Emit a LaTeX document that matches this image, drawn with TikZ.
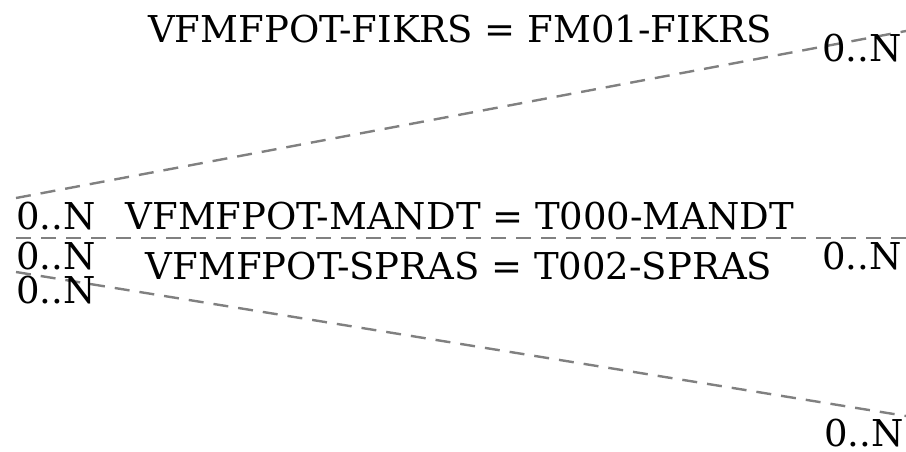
\documentclass[tikz,border=0pt]{standalone}
\usepackage{fontspec}
\setmainfont{DejaVu Serif}
\begin{document}
\begin{tikzpicture}[x=1pt,y=-1pt,
  rel/.style={draw=gray,line width=2.4pt,dash pattern=on 15pt off 10pt},
  lbl/.style={font=\fontsize{37}{42}\selectfont,inner sep=0pt},
  card/.style={font=\fontsize{37}{42}\selectfont,inner sep=0pt}]
\useasboundingbox (0,0) rectangle (906,451);
\coordinate (a1) at (16,198);
\coordinate (b1) at (906,31);
\coordinate (a2) at (16,238);
\coordinate (b2) at (906,238);
\coordinate (a3) at (16,272);
\coordinate (b3) at (906,416);
\draw[rel] (a1) -- (b1);
\draw[rel] (a2) -- (b2);
\draw[rel] (a3) -- (b3);
\node[lbl,anchor=base] (l1) at (460,42) {VFMFPOT-FIKRS = FM01-FIKRS};
\node[lbl,anchor=base] (l2) at (460,229) {VFMFPOT-MANDT = T000-MANDT};
\node[lbl,anchor=base] (l3) at (459,279) {VFMFPOT-SPRAS = T002-SPRAS};
\node[card,anchor=base west] (c1) at (16,229) {0..N};
\node[card,anchor=base west] (c2) at (16,269) {0..N};
\node[card,anchor=base west] (c3) at (16,303) {0..N};
\node[card,anchor=base east] (d1) at (902,61) {0..N};
\node[card,anchor=base east] (d2) at (902,269) {0..N};
\node[card,anchor=base east,text depth=0pt] (d3) at (904,446) {0..N};
\end{tikzpicture}
\end{document}
